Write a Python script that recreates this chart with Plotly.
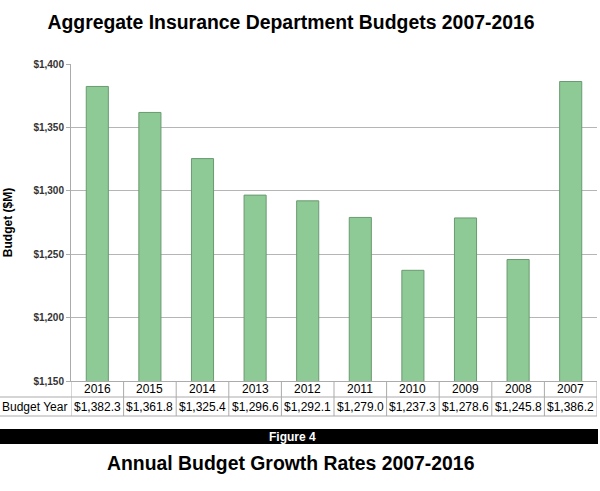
import plotly.graph_objects as go

years = ["2016", "2015", "2014", "2013", "2012", "2011", "2010", "2009", "2008", "2007"]
budgets = [1382.3, 1361.8, 1325.4, 1296.6, 1292.1, 1279.0, 1237.3, 1278.6, 1245.8, 1386.2]
value_labels = ["$1,382.3", "$1,361.8", "$1,325.4", "$1,296.6", "$1,292.1",
                "$1,279.0", "$1,237.3", "$1,278.6", "$1,245.8", "$1,386.2"]
y_ticks = [1150, 1200, 1250, 1300, 1350, 1400]
y_tick_labels = ["<b>$1,150</b>", "<b>$1,200</b>", "<b>$1,250</b>",
                 "<b>$1,300</b>", "<b>$1,350</b>", "<b>$1,400</b>"]

W, H = 600, 491
L, R, T, B = 71, 3, 64, 110
pw = W - L - R
ph = H - T - B

def py(px):  # pixel y -> paper y
    return (H - B - px) / ph

def px_(x):  # pixel x -> paper x
    return (x - L) / pw

FONT = "Liberation Sans, Arial, sans-serif"

fig = go.Figure()
fig.add_trace(go.Bar(
    x=years, y=budgets, width=0.42,
    marker=dict(color="#8DCA95", line=dict(color="#6A9A70", width=1)),
    hoverinfo="x+y", showlegend=False,
))

shapes = []
grid = "#ABABAB"
# table horizontal lines
for yy in [397, 416]:
    shapes.append(dict(type="line", xref="paper", yref="paper",
                       x0=px_(0), x1=1, y0=py(yy), y1=py(yy),
                       line=dict(color=grid, width=1)))
# table vertical lines
for i in range(len(years) + 1):
    shapes.append(dict(type="line", xref="x", yref="paper",
                       x0=i - 0.5, x1=i - 0.5, y0=0, y1=py(416),
                       line=dict(color=grid, width=1)))
# black figure bar
shapes.append(dict(type="rect", xref="paper", yref="paper",
                   x0=px_(0), x1=px_(598), y0=py(429), y1=py(444),
                   fillcolor="black", line=dict(width=0)))

annotations = []
for i, yr in enumerate(years):
    annotations.append(dict(x=i, xref="x", y=py(389), yref="paper", text=yr,
                            showarrow=False, xanchor="center", yanchor="middle",
                            font=dict(family=FONT, size=12, color="black")))
    annotations.append(dict(x=i, xref="x", y=py(406.5), yref="paper", text=value_labels[i],
                            showarrow=False, xanchor="center", yanchor="middle",
                            font=dict(family=FONT, size=12, color="black")))
annotations.append(dict(x=px_(34.5), xref="paper", y=py(406.5), yref="paper", text="Budget Year",
                        showarrow=False, xanchor="center", yanchor="middle",
                        font=dict(family=FONT, size=12, color="black")))
annotations.append(dict(x=px_(292), xref="paper", y=py(436.5), yref="paper", text="<b>Figure 4</b>",
                        showarrow=False, xanchor="center", yanchor="middle",
                        font=dict(family=FONT, size=12, color="white")))
annotations.append(dict(x=px_(291), xref="paper", y=py(463), yref="paper",
                        text="<b>Annual Budget Growth Rates 2007-2016</b>",
                        showarrow=False, xanchor="center", yanchor="middle",
                        font=dict(family=FONT, size=19.4, color="black")))

fig.update_layout(
    width=W, height=H,
    margin=dict(l=L, r=R, t=T, b=B, pad=0),
    paper_bgcolor="white", plot_bgcolor="white",
    title=dict(text="<b>Aggregate Insurance Department Budgets 2007-2016</b>",
               x=291 / W, xanchor="center", y=1 - 22 / H, yanchor="middle",
               xref="container", yref="container",
               font=dict(family=FONT, size=19.4, color="black")),
    xaxis=dict(type="category", range=[-0.5, 9.5], showticklabels=False,
               showgrid=False, zeroline=False, showline=True,
               linecolor=grid, linewidth=1, ticks=""),
    yaxis=dict(range=[1150, 1400], tickvals=y_ticks, ticktext=y_tick_labels,
               showgrid=True, gridcolor="#B5B5B5", gridwidth=1,
               showline=True, linecolor=grid, linewidth=1,
               ticks="outside", ticklen=4, tickcolor=grid,
               zeroline=False,
               tickfont=dict(family=FONT, size=10, color="#333333"),
               title=dict(text="<b>Budget ($M)</b>", standoff=18,
                          font=dict(family=FONT, size=12, color="black"))),
    shapes=shapes, annotations=annotations,
    bargap=0.58,
)

fig.write_html("out.html")
